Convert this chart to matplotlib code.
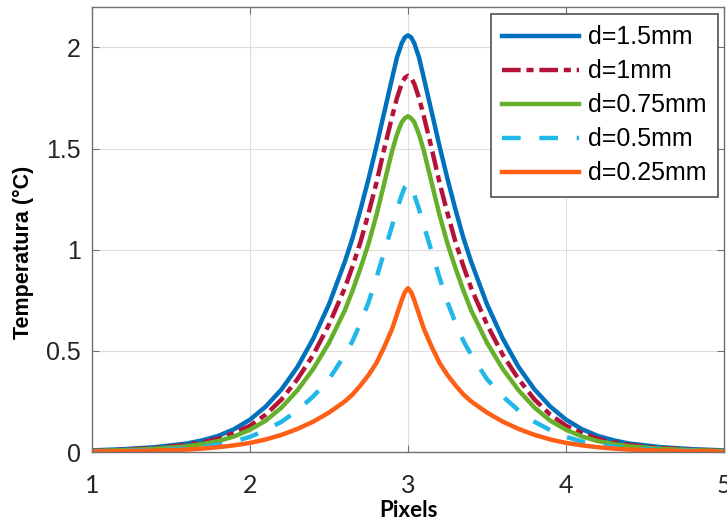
import numpy as np
import matplotlib
matplotlib.use("Agg")
import matplotlib.pyplot as plt

# pixel positions
x = [1.0, 1.2, 1.4, 1.6, 1.7, 1.8, 1.9, 2.0, 2.1, 2.2, 2.3, 2.4, 2.5, 2.6, 2.65, 2.7, 2.75,
     2.8, 2.85, 2.9, 2.93, 2.96, 2.98,
     3.0,
     3.02, 3.04, 3.07, 3.1, 3.15, 3.2, 3.25, 3.3, 3.35, 3.4, 3.5, 3.6, 3.7, 3.8, 3.9,
     4.0, 4.1, 4.2, 4.3, 4.4, 4.6, 4.8, 5.0]

# temperature rise for each depth
t_15 = [0.008, 0.014, 0.024, 0.042, 0.058, 0.08, 0.113, 0.16, 0.225, 0.31, 0.42, 0.56, 0.73,
        0.94, 1.06, 1.20, 1.35, 1.51, 1.68, 1.85, 1.95, 2.02, 2.05,
        2.06,
        2.05, 2.02, 1.95, 1.85, 1.68, 1.51, 1.35, 1.20, 1.06, 0.94, 0.73, 0.56, 0.42, 0.31,
        0.225, 0.16, 0.113, 0.08, 0.058, 0.042, 0.024, 0.014, 0.008]
t_10 = [0.006, 0.011, 0.02, 0.035, 0.048, 0.066, 0.094, 0.13, 0.185, 0.26, 0.36, 0.48, 0.63,
        0.81, 0.92, 1.04, 1.18, 1.33, 1.50, 1.66, 1.75, 1.82, 1.85,
        1.86,
        1.85, 1.82, 1.75, 1.66, 1.50, 1.33, 1.18, 1.04, 0.92, 0.81, 0.63, 0.48, 0.36, 0.26,
        0.185, 0.13, 0.094, 0.066, 0.048, 0.035, 0.02, 0.011, 0.006]
t_075 = [0.005, 0.009, 0.016, 0.028, 0.039, 0.054, 0.077, 0.11, 0.155, 0.22, 0.305, 0.41, 0.54,
         0.70, 0.80, 0.91, 1.03, 1.17, 1.33, 1.49, 1.57, 1.63, 1.65,
         1.66,
         1.65, 1.63, 1.57, 1.49, 1.33, 1.17, 1.03, 0.91, 0.80, 0.70, 0.54, 0.41, 0.305, 0.22,
         0.155, 0.11, 0.077, 0.054, 0.039, 0.028, 0.016, 0.009, 0.005]
t_05 = [0.003, 0.006, 0.01, 0.018, 0.026, 0.036, 0.052, 0.075, 0.108, 0.15, 0.205, 0.275, 0.36,
        0.48, 0.55, 0.64, 0.74, 0.86, 0.99, 1.12, 1.20, 1.27, 1.31,
        1.33,
        1.31, 1.27, 1.20, 1.12, 0.99, 0.86, 0.74, 0.64, 0.55, 0.48, 0.36, 0.275, 0.205, 0.15,
        0.108, 0.075, 0.052, 0.036, 0.026, 0.018, 0.01, 0.006, 0.003]
t_025 = [0.002, 0.004, 0.007, 0.012, 0.017, 0.024, 0.033, 0.045, 0.062, 0.085, 0.114, 0.15, 0.195,
         0.25, 0.285, 0.33, 0.38, 0.44, 0.52, 0.61, 0.68, 0.75, 0.79,
         0.81,
         0.79, 0.75, 0.68, 0.61, 0.52, 0.44, 0.38, 0.33, 0.285, 0.25, 0.195, 0.15, 0.114, 0.085,
         0.062, 0.045, 0.033, 0.024, 0.017, 0.012, 0.007, 0.004, 0.002]

labels = ["d=1.5mm", "d=1mm", "d=0.75mm", "d=0.5mm", "d=0.25mm"]
xticks = [1, 2, 3, 4, 5]
yticks = [0, 0.5, 1, 1.5, 2]
ytick_labels = ["0", "0.5", "1", "1.5", "2"]

fig = plt.figure(figsize=(7.27, 5.24), dpi=100)
ax = fig.add_axes([92/727, 72/524, 632/727, 445/524])

lw = 3.2
ax.plot(x, t_15, color="#0072BD", lw=lw, label=labels[0])
ax.plot(x, t_10, color="#B5123A", lw=lw, dashes=(4.2, 1.3, 1.6, 1.3), label=labels[1])
ax.plot(x, t_075, color="#66AF2A", lw=lw, label=labels[2])
ax.plot(x, t_05, color="#1FB8E8", lw=lw, dashes=(4.2, 4.2), label=labels[3])
ax.plot(x, t_025, color="#FF5F14", lw=lw, label=labels[4])

ax.set_xlim(1, 5)
ax.set_ylim(0, 2.2)
ax.set_xticks(xticks)
ax.set_yticks(yticks)
ax.set_yticklabels(ytick_labels)
ax.grid(True, color="#dddddd", lw=0.8)
ax.set_axisbelow(True)
for s in ax.spines.values():
    s.set_color("#707070")
    s.set_linewidth(1.0)
ax.tick_params(axis="both", direction="in", length=5, width=0.8, color="#707070",
               top=True, right=True)
ax.tick_params(axis="y", pad=8, labelsize=18, labelcolor="#262626")
ax.tick_params(axis="x", pad=16, labelsize=18, labelcolor="#262626")
for t in ax.get_yticklabels():
    t.set_family("Liberation Sans")
for t in ax.get_xticklabels():
    t.set_family("Lato")

ax.set_xlabel("Pixels", family="Lato", fontweight="bold", fontsize=16, labelpad=2)
ax.set_ylabel("Temperatura (°C)", family="Liberation Sans", fontweight="bold", fontsize=15.5)
ax.yaxis.set_label_coords(-0.092, 0.449)

leg = ax.legend(loc="upper right", bbox_to_anchor=(0.9905, 0.984), borderaxespad=0,
                prop={"family": "Liberation Sans", "size": 18},
                handlelength=3.1, handletextpad=0.35, labelspacing=0.4,
                borderpad=0.45, fancybox=False, framealpha=1)
leg.get_frame().set_edgecolor("#505050")
leg.get_frame().set_linewidth(1.2)

fig.savefig("out.png", dpi=100)
